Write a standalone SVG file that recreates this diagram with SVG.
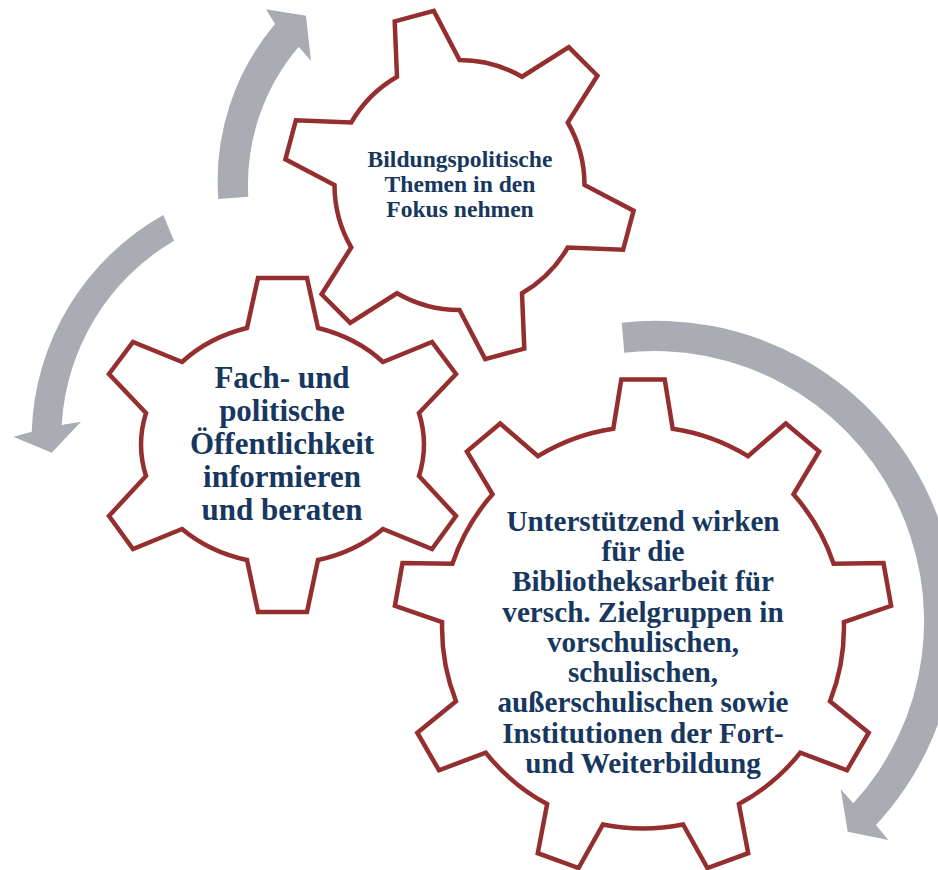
<svg xmlns="http://www.w3.org/2000/svg" width="938" height="870" viewBox="0 0 938 870">
<style>
.gear{fill:#ffffff;stroke:#952E2E;stroke-width:4.5;stroke-linejoin:miter}
.arr{fill:#A9ACB3;stroke:none}
.t{font-family:"Liberation Serif","Times New Roman",serif;font-weight:bold;fill:#17375E;text-anchor:middle}
</style>
<rect width="938" height="870" fill="#ffffff"/>
<g id="connectors">
<path class="arr" d="M 218.3,199 A 243 243 0 0 1 275,24 L 266,9.3 L 306,15.7 L 311,61 L 298.7,46.7 A 213 213 0 0 0 248.3,196.7 Z"/>
<path class="arr" d="M 163.3,215 A 258 258 0 0 0 31.7,431.7 L 13.3,436.7 L 51.7,452.7 L 81,421.7 L 61.7,425 A 229 229 0 0 1 174,240.7 Z"/>
<path class="arr" d="M 621.7,322.7 A 300 300 0 0 1 876,825 L 888.3,840 L 847.7,831.7 L 840.7,789.3 L 853.3,803.3 A 270 270 0 0 0 624.3,352.7 Z"/>
</g>
<g id="gear-top">
<path class="gear" d="M 397,76.75 L 394.7,21.4 L 433.8,10.9 L 459.5,60 A 125 125 0 0 1 522,76.75 L 568.8,47.1 L 597.4,75.7 L 567.75,122.5 A 125 125 0 0 1 584.5,185 L 633.6,210.7 L 623.1,249.8 L 567.75,247.5 A 125 125 0 0 1 522,293.25 L 524.3,348.6 L 485.2,359.1 L 459.5,310 A 125 125 0 0 1 397,293.25 L 350.2,322.9 L 321.6,294.3 L 351.25,247.5 A 125 125 0 0 1 334.5,185 L 285.4,159.3 L 295.9,120.2 L 351.25,122.5 A 125 125 0 0 1 397,76.75 Z"/>
<text class="t" font-size="23.6" x="460"><tspan x="460" y="167">Bildungspolitische</tspan><tspan x="460" y="192">Themen in den</tspan><tspan x="460" y="217">Fokus nehmen</tspan></text>
</g>
<g id="gear-left">
<path class="gear" d="M 247,328 L 258,278 L 307,278 L 318,328 A 142 121 0 0 1 383,362 L 432,342 L 456,374 L 419,413 A 142 121 0 0 1 419,476 L 456,516 L 432,549 L 383,529 A 142 121 0 0 1 318,560 L 307,612 L 258,612 L 247,560 A 142 121 0 0 1 182,529 L 133,549 L 109,516 L 146,476 A 142 121 0 0 1 146,413 L 109,374 L 133,342 L 182,362 A 142 121 0 0 1 247,328 Z"/>
<text class="t" font-size="31" x="282"><tspan x="282" y="388">Fach- und</tspan><tspan x="282" y="421">politische</tspan><tspan x="282" y="454">Öffentlichkeit</tspan><tspan x="282" y="487">informieren</tspan><tspan x="282" y="520">und beraten</tspan></text>
</g>
<g id="gear-right">
<path class="gear" d="M 613.3,428.7 L 621.3,379.4 L 664.7,379.4 L 672.7,428.7 A 201 201 0 0 1 748.0,456.1 L 785.8,423.5 L 819.1,451.4 L 793.5,494.3 A 201 201 0 0 1 833.6,563.7 L 883.5,563.1 L 891.1,605.8 L 843.9,622.2 A 201 201 0 0 1 830.0,701.2 L 868.7,732.7 L 847.0,770.3 L 800.3,752.6 A 201 201 0 0 1 738.9,804.1 L 748.2,853.2 L 707.4,868.0 L 683.1,824.5 A 201 201 0 0 1 602.9,824.5 L 578.6,868.0 L 537.8,853.2 L 547.1,804.1 A 201 201 0 0 1 485.7,752.6 L 439.0,770.3 L 417.3,732.7 L 456.0,701.2 A 201 201 0 0 1 442.1,622.2 L 394.9,605.8 L 402.5,563.1 L 452.4,563.7 A 201 201 0 0 1 492.5,494.3 L 466.9,451.4 L 500.2,423.5 L 538.0,456.1 A 201 201 0 0 1 613.3,428.7 Z"/>
<text class="t" font-size="29.2" x="643"><tspan x="643" y="530.6">Unterstützend wirken</tspan><tspan x="643" y="560.9">für die</tspan><tspan x="643" y="591.2">Bibliotheksarbeit für</tspan><tspan x="643" y="621.5">versch. Zielgruppen in</tspan><tspan x="643" y="651.8">vorschulischen,</tspan><tspan x="643" y="682.1">schulischen,</tspan><tspan x="643" y="712.4">außerschulischen sowie</tspan><tspan x="643" y="742.7">Institutionen der Fort-</tspan><tspan x="643" y="773">und Weiterbildung</tspan></text>
</g>
</svg>
